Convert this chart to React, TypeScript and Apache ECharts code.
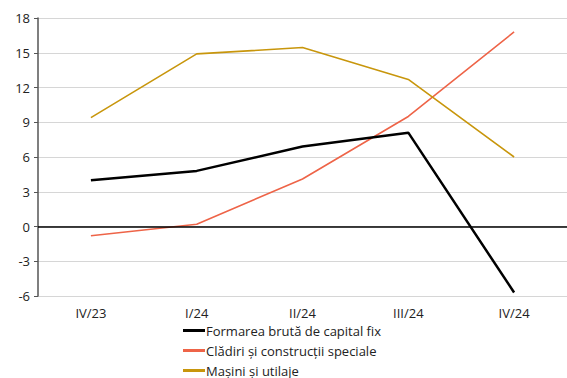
import React, { useEffect, useRef } from "react";
import * as echarts from "echarts";

const categories = ["IV/23", "I/24", "II/24", "III/24", "IV/24"];
const formarea = [4.0, 4.8, 6.9, 8.1, -5.7];
const cladiri = [-0.8, 0.2, 4.1, 9.5, 16.8];
const masini = [9.4, 14.9, 15.45, 12.7, 6.0];
const seriesNames = [
  "Formarea brută de capital fix",
  "Clădiri și construcții speciale",
  "Mașini și utilaje",
];

export default function App() {
  const ref = useRef<HTMLDivElement>(null);
  useEffect(() => {
    const chart = echarts.init(ref.current!, null, { renderer: "svg" });
    const font = "'Open Sans', 'Noto Sans', sans-serif";
    chart.setOption({
      animation: false,
      textStyle: { fontFamily: font },
      grid: { left: 38, top: 18, width: 530, height: 278 },
      legend: {
        orient: "vertical",
        left: 178,
        top: 319,
        itemGap: 7,
        itemWidth: 22,
        itemHeight: 3,
        icon: "rect",
        textStyle: { fontSize: 13, color: "#222", fontFamily: font, padding: [0, 0, 0, -4] },
        data: seriesNames,
      },
      xAxis: {
        type: "category",
        data: categories,
        boundaryGap: true,
        position: "bottom",
        axisLine: { show: false },
        axisTick: { show: false },
        axisLabel: { fontSize: 13, color: "#222", margin: 10 },
      },
      yAxis: {
        type: "value",
        min: -6,
        max: 18,
        interval: 3,
        axisLine: { show: true, lineStyle: { color: "#555", width: 1.5 } },
        axisTick: { show: true, length: 4, lineStyle: { color: "#555" } },
        axisLabel: { fontSize: 13, color: "#222", margin: 8 },
        splitLine: { show: true, lineStyle: { color: "#d6d6d6", width: 1 } },
      },
      series: [
        {
          name: seriesNames[0],
          type: "line",
          data: formarea,
          symbol: "none",
          color: "#000000",
          lineStyle: { width: 2.5, color: "#000000" },
          z: 5,
          markLine: {
            silent: true,
            symbol: "none",
            label: { show: false },
            lineStyle: { color: "#000", width: 1.5, type: "solid" },
            data: [{ yAxis: 0 }],
          },
        },
        {
          name: seriesNames[1],
          type: "line",
          data: cladiri,
          symbol: "none",
          color: "#ee6448",
          lineStyle: { width: 1.6, color: "#ee6448" },
        },
        {
          name: seriesNames[2],
          type: "line",
          data: masini,
          symbol: "none",
          color: "#c8960c",
          lineStyle: { width: 1.6, color: "#c8960c" },
        },
      ],
    });
    return () => chart.dispose();
  }, []);
  return <div ref={ref} style={{ width: 567, height: 400, position: "absolute", left: 0, top: 0 }} />;
}
